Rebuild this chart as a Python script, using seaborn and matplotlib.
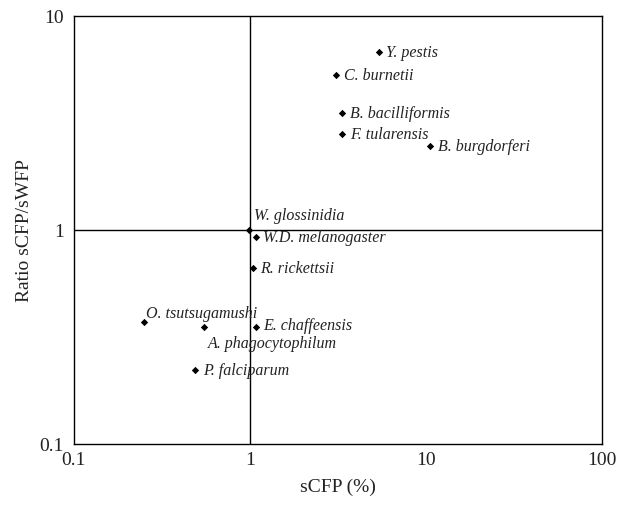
import pandas as pd
import matplotlib
matplotlib.use("Agg")
import matplotlib.pyplot as plt
import seaborn as sns

species = ["Y. pestis", "C. burnetii", "B. bacilliformis", "F. tularensis",
           "B. burgdorferi", "W. glossinidia", "W.D. melanogaster", "R. rickettsii",
           "O. tsutsugamushi", "A. phagocytophilum", "E. chaffeensis", "P. falciparum"]
scfp = [5.4, 3.1, 3.36, 3.36, 10.6, 0.99, 1.08, 1.04, 0.25, 0.55, 1.09, 0.49]
ratio = [6.8, 5.3, 3.5, 2.8, 2.45, 1.0, 0.92, 0.66, 0.37, 0.35, 0.35, 0.22]

df = pd.DataFrame({"species": species, "sCFP": scfp, "ratio": ratio})

sns.set_theme(style="white")
plt.rcParams["font.family"] = ["Liberation Serif", "DejaVu Serif"]

fig = plt.figure(figsize=(6.18, 5.06), dpi=100)
ax = fig.add_axes([0.119, 0.121, 0.855, 0.846])

sns.scatterplot(data=df, x="sCFP", y="ratio", marker="D", s=14,
                color="black", edgecolor="black", linewidth=0, ax=ax, zorder=3)

ax.set_xscale("log")
ax.set_yscale("log")
ax.set_xlim(0.1, 100)
ax.set_ylim(0.1, 10)

# quadrant lines through 1,1
ax.axvline(1, color="black", lw=1.0, zorder=2)
ax.axhline(1, color="black", lw=1.0, zorder=2)

# label offsets (points) relative to each marker
offsets = {
    "W. glossinidia": (4, 5, "bottom"),
    "O. tsutsugamushi": (2, 1, "bottom"),
    "A. phagocytophilum": (3, -5.5, "top"),
    "E. chaffeensis": (5, 2, "center"),
}
for _, r in df.iterrows():
    dx, dy, va = offsets.get(r["species"], (5.5, 0, "center"))
    ax.annotate(r["species"], xy=(r["sCFP"], r["ratio"]), xytext=(dx, dy),
                textcoords="offset points", ha="left", va=va,
                fontsize=11.5, fontstyle="italic", color="#222222")

ax.set_xticks([0.1, 1, 10, 100])
ax.set_xticklabels(["0.1", "1", "10", "100"])
ax.set_yticks([0.1, 1, 10])
ax.set_yticklabels(["0.1", "1", "10"])
ax.minorticks_off()
ax.tick_params(axis="both", length=0, labelsize=14, colors="#222222")
ax.tick_params(axis="x", pad=5)
ax.tick_params(axis="y", pad=7)

for sp in ax.spines.values():
    sp.set_color("black")
    sp.set_linewidth(1.0)

ax.set_xlabel("sCFP (%)", fontsize=14, color="#222222", labelpad=7)
ax.set_ylabel("Ratio sCFP/sWFP", fontsize=14, color="#222222", labelpad=5)
ax.grid(False)

fig.savefig("out.png", dpi=100)
